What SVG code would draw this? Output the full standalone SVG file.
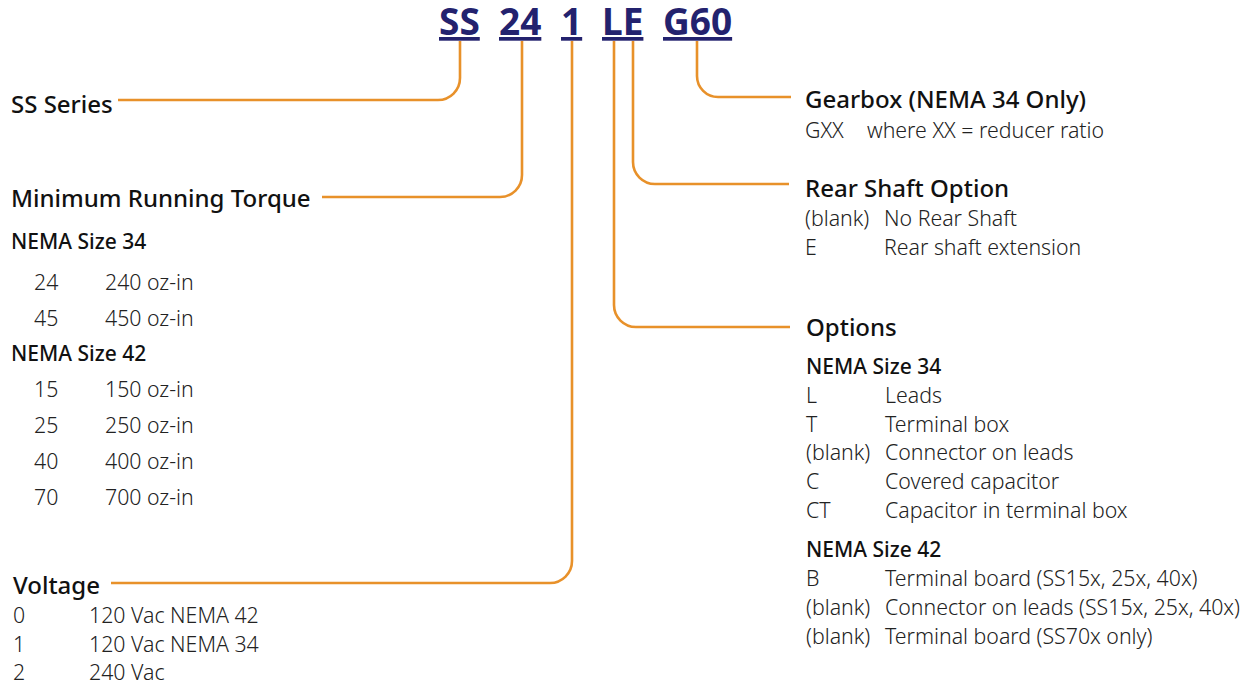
<svg xmlns="http://www.w3.org/2000/svg" width="1252" height="687" viewBox="0 0 1252 687">
<style>
text{font-family:"Noto Sans","Open Sans","Liberation Sans",sans-serif;fill:#111}
.code{font-size:37px;font-weight:700;fill:#23226e;text-decoration:underline}
.h{font-size:24px;font-weight:500}
.s{font-size:21px;font-weight:500}
.b{font-size:21.3px;font-weight:300;fill:#222}
.c{fill:none;stroke:#e8912a;stroke-width:2.6}
</style>
<rect width="1252" height="687" fill="#fff"/>
<g id="code">
<text class="code" x="439" y="35">SS</text>
<text class="code" x="499" y="35">24</text>
<text class="code" x="561" y="35">1</text>
<text class="code" x="602" y="35">LE</text>
<text class="code" x="663" y="35">G60</text>
</g>
<g id="connectors">
<path class="c" d="M460,41 V78 A22,22 0 0 1 438,100 H118"/>
<path class="c" d="M522,41 V175 A22,22 0 0 1 500,197 H322"/>
<path class="c" d="M572,41 V561 A22,22 0 0 1 550,583 H111"/>
<path class="c" d="M614,41 V305 A22,22 0 0 0 636,327 H790"/>
<path class="c" d="M633,41 V162 A22,22 0 0 0 655,184 H789"/>
<path class="c" d="M697,41 V76 A21,21 0 0 0 718,97 H791"/>
</g>
<g id="series"><text class="h" x="11" y="113">SS Series</text></g>
<g id="torque">
<text class="h" x="11" y="207">Minimum Running Torque</text>
<text class="s" x="11" y="249">NEMA Size 34</text>
<text class="b" x="34" y="290">24</text><text class="b" x="105" y="290">240 oz-in</text>
<text class="b" x="34" y="326">45</text><text class="b" x="105" y="326">450 oz-in</text>
<text class="s" x="11" y="361">NEMA Size 42</text>
<text class="b" x="34" y="397">15</text><text class="b" x="105" y="397">150 oz-in</text>
<text class="b" x="34" y="433">25</text><text class="b" x="105" y="433">250 oz-in</text>
<text class="b" x="34" y="469">40</text><text class="b" x="105" y="469">400 oz-in</text>
<text class="b" x="34" y="505">70</text><text class="b" x="105" y="505">700 oz-in</text>
</g>
<g id="voltage">
<text class="h" x="13" y="594">Voltage</text>
<text class="b" x="13" y="623">0</text><text class="b" x="89" y="623">120 Vac NEMA 42</text>
<text class="b" x="13" y="652">1</text><text class="b" x="89" y="652">120 Vac NEMA 34</text>
<text class="b" x="13" y="680">2</text><text class="b" x="89" y="680">240 Vac</text>
</g>
<g id="gearbox">
<text class="h" x="805" y="108">Gearbox (NEMA 34 Only)</text>
<text class="b" x="805" y="138">GXX</text><text class="b" x="867" y="138">where XX = reducer ratio</text>
</g>
<g id="rearshaft">
<text class="h" x="805" y="197">Rear Shaft Option</text>
<text class="b" x="805" y="226">(blank)</text><text class="b" x="884" y="226">No Rear Shaft</text>
<text class="b" x="805" y="255">E</text><text class="b" x="884" y="255">Rear shaft extension</text>
</g>
<g id="options">
<text class="h" x="806" y="336">Options</text>
<text class="s" x="806" y="374">NEMA Size 34</text>
<text class="b" x="806" y="403">L</text><text class="b" x="885" y="403">Leads</text>
<text class="b" x="806" y="432">T</text><text class="b" x="885" y="432">Terminal box</text>
<text class="b" x="806" y="460">(blank)</text><text class="b" x="885" y="460">Connector on leads</text>
<text class="b" x="806" y="489">C</text><text class="b" x="885" y="489">Covered capacitor</text>
<text class="b" x="806" y="518">CT</text><text class="b" x="885" y="518">Capacitor in terminal box</text>
<text class="s" x="806" y="557">NEMA Size 42</text>
<text class="b" x="806" y="586">B</text><text class="b" x="885" y="586">Terminal board (SS15x, 25x, 40x)</text>
<text class="b" x="806" y="615">(blank)</text><text class="b" x="885" y="615">Connector on leads (SS15x, 25x, 40x)</text>
<text class="b" x="806" y="644">(blank)</text><text class="b" x="885" y="644">Terminal board (SS70x only)</text>
</g>
</svg>
